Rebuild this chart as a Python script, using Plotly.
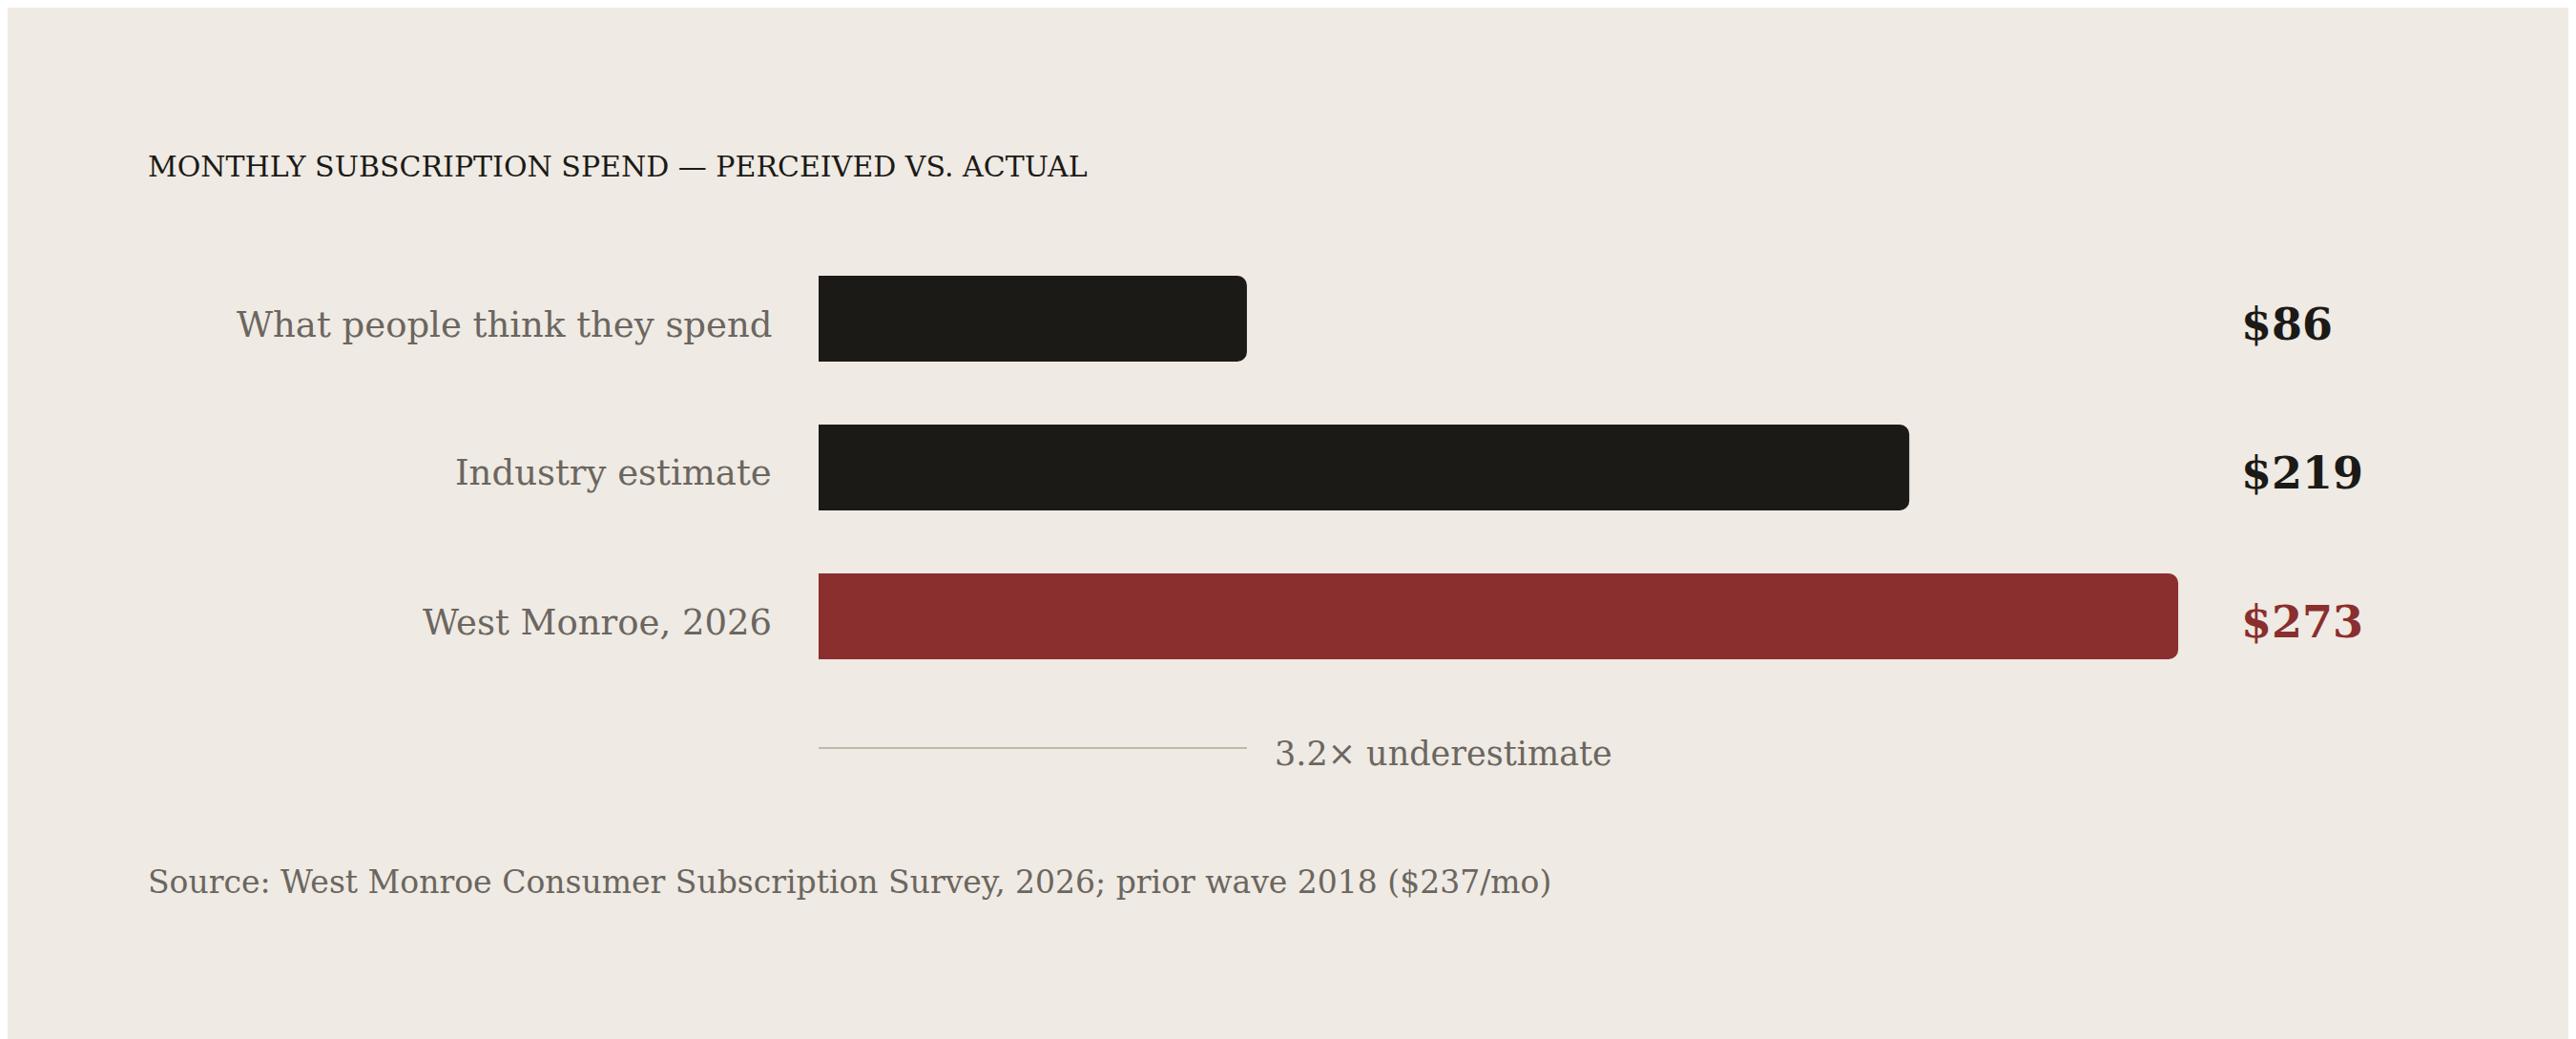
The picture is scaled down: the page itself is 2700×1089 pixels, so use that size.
import plotly.graph_objects as go

categories = ["What people think they spend", "Industry estimate", "West Monroe, 2026"]
values = [86, 219, 273]
value_labels = ["$86", "$219", "$273"]
colors = ["#1c1a17", "#1c1a17", "#8b2e2e"]
title = "MONTHLY SUBSCRIPTION SPEND — PERCEIVED VS. ACTUAL"
note = "3.2× underestimate"
source = "Source: West Monroe Consumer Subscription Survey, 2026; prior wave 2018 ($237/mo)"

W, H = 2700, 1089
x0px, ppu = 850, 5.22
yc0, ystep = 326, 156
FONT = "DejaVu Serif"
grey = "#6b6660"

ypos = list(range(len(categories)))
fig = go.Figure(go.Bar(x=values, y=ypos, orientation="h", marker=dict(color=colors, cornerradius=10, line=dict(width=0)),
                       width=90/ystep, hoverinfo="skip"))
fig.add_trace(go.Scatter(x=[0, values[0]], y=[(776-yc0)/ystep]*2, mode="lines",
                         line=dict(color="#c0b8a8", width=2), hoverinfo="skip"))

def px(x): return x / W
def py(y): return 1 - y / H

def A(x, y, text, anchor, size, color):
    return dict(x=px(x), y=py(y), xref="paper", yref="paper", text=text, xanchor=anchor, yanchor="middle",
                showarrow=False, font=dict(family=FONT, size=size, color=color))

ann = [A(145, 167, title, "left", 30, "#1c1a17")]
for i, (c, lab, col) in enumerate(zip(categories, value_labels, colors)):
    yc = 332 + i*ystep
    ann.append(A(803, yc, c, "right", 37, grey))
    ann.append(A(2339, yc, "<b>"+lab+"</b>", "left", 46, col))
ann.append(A(1326, 782, note, "left", 35, grey))
ann.append(A(145, 916, source, "left", 33, grey))

fig.update_layout(width=W, height=H, margin=dict(l=0, r=0, t=0, b=0), showlegend=False,
                  paper_bgcolor="#efeae3", plot_bgcolor="#efeae3", annotations=ann,
                  xaxis=dict(range=[-x0px/ppu, (W-x0px)/ppu], visible=False, fixedrange=True),
                  yaxis=dict(range=[(H-yc0)/ystep, -yc0/ystep], visible=False, fixedrange=True))
fig.write_html("out.html")
